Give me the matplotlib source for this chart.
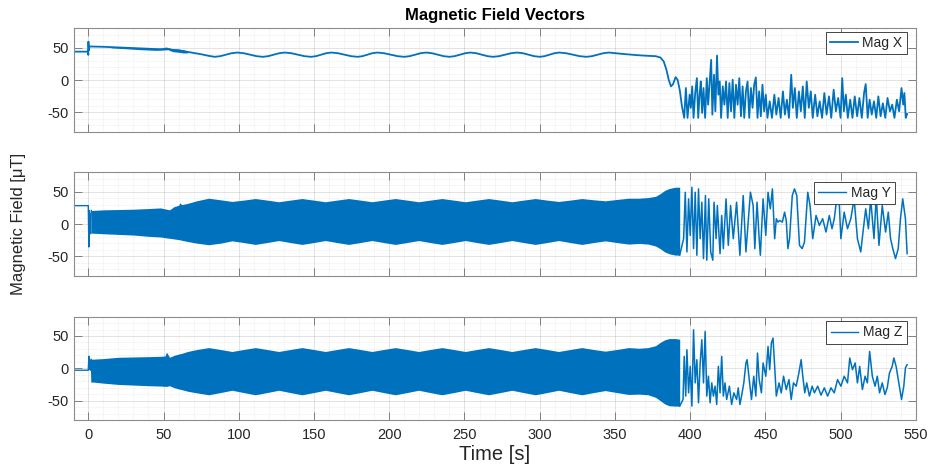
import matplotlib
matplotlib.use('Agg')
import matplotlib.pyplot as plt
from matplotlib.ticker import MultipleLocator

plt.rcParams['font.family'] = ['Liberation Sans', 'DejaVu Sans']
plt.rcParams['axes.unicode_minus'] = False

LINE = '#0072BD'
TXT = '#262626'

# ---- Mag X (line) ----
x_t = [-9.5, -0.2, 0.0, 0.1, 0.3, 0.8, 10, 20, 30, 40, 48, 50, 52, 55, 60, 65, 70, 75, 80,
       84, 87.75, 91.5, 95.25, 99, 103.25, 107.5, 111.75, 116, 119.6, 123.25, 126.9,
       130.5, 134.9, 139.25, 143.6, 148, 151.4, 154.75, 158.1, 161.5, 165.9, 170.25, 174.6,
       179, 182.25, 185.5, 188.75, 192, 196.5, 201, 205.5, 210, 213.6, 217.25, 220.9,
       224.5, 228.4, 232.25, 236.1, 240, 243.5, 247, 250.5, 254, 257.75, 261.5, 265.25,
       269, 273, 277, 281, 285, 288.75, 292.5, 296.25, 300, 303.25, 306.5, 309.75,
       313, 317.5, 322, 326.5, 331, 334.75, 338.5, 342.25, 346, 355, 365, 372, 377,
       380.2, 382.4, 384.2, 385.7, 387.2, 388.6, 390.3, 391.6, 393, 394.5, 396, 397.1,
       398.2, 399.6, 400.4, 401.3, 402.2, 403.3, 404.4, 405.3, 406.2, 407, 407.9, 408.8,
       409.9, 411, 411.9, 412.8, 413.9, 414.7, 415.8, 416.7, 417.8, 418.7, 419.6, 420.5,
       421.6, 422.7, 423.8, 424.9, 426, 427.1, 428.2, 429.3, 430.4, 431.5, 432.6, 433.7,
       434.8, 435.9, 437, 438.1, 439.2, 440.3, 441.4, 442.5, 443.6, 444.7, 445.8, 446.9,
       448, 449.1, 450.2, 451.3, 452.8, 454.3, 455.9, 457.2, 458.7, 460.1, 461.6, 462.9,
       464.2, 465.6, 467.1, 468.2, 469.5, 470.8, 472.2, 473.5, 474.8, 476.1, 477.4, 478.8,
       480.1, 481.4, 483, 484.5, 486, 487.6, 489.1, 490.6, 492.2, 493.7, 495.3, 496.8,
       498.3, 499.9, 501, 502.1, 503.4, 504.7, 506.3, 507.8, 509.3, 510.9, 512.4, 514,
       515.5, 516.6, 517.9, 519.2, 520.6, 522.1, 523.6, 525, 526.5, 528, 529.6, 531.1,
       532.7, 534.2, 535.7, 537.3, 538.8, 540.4, 541.5, 542.3, 543.2, 544.1]
x_v = [44, 44, 39, 59.5, 46, 52, 51.5, 50.5, 49.5, 48.5, 47.5, 48, 49, 47, 46, 44, 42, 40, 37.5,
       36, 37, 39.3, 41.6, 42.6, 41.6, 39.3, 37, 36, 37, 39.3, 41.6,
       42.6, 41.6, 39.3, 37, 36, 37, 39.3, 41.6, 42.6, 41.6, 39.3, 37,
       36, 37, 39.3, 41.6, 42.6, 41.6, 39.3, 37, 36, 37, 39.3, 41.6,
       42.6, 41.6, 39.3, 37, 36, 37, 39.3, 41.6, 42.6, 41.6, 39.3, 37,
       36, 37, 39.3, 41.6, 42.6, 41.6, 39.3, 37, 36, 37, 39.3, 41.6,
       42.6, 41.6, 39.3, 37, 36, 37, 39.3, 41.6, 42.6, 40.5, 38.5, 37.5, 37,
       34.9, 28.7, 15.9, 0.5, -9.8, -6.2, 4.6, 0.5, -14.9, -40.6, -58.5, -12.3,
       -58.5, -22.6, -43, -9.8, -58.5, -20, 3, -58.5, -22.6, -2.1, -50.8, -12.3,
       -58.5, 3, -38, -7.2, 31.3, -53.4, 8.2, -48.3, 37.9, -22.6, -2.1, -58.5,
       -9.8, -38, -2.1, -58.5, -4.6, -48.3, 0.5, -58.5, -7.2, -38, 3, -56,
       -9.8, -58.5, -17.5, -2.1, -58.5, -12.3, -43, -7.2, 4.1, -58.5, -17.5, -56,
       -7.2, -48.3, -22.6, -58.5, -32.9, -58.5, -22.6, -53.4, -27.7, -58.5, -17.5, -53.4,
       -30.3, -58.5, 8.2, -43, -12.3, -58.5, -17.5, -48.3, -9.8, -58.5, -2.1, -43,
       -17.5, -58.5, -22.6, -56, -32.9, -58.5, -20, -53.4, -25.2, -58.5, -14.9, -48.3,
       -27.7, -58.5, 3, -48.3, -22.6, -58.5, -30.3, -58.5, -25.2, -56, -27.7, -58.5,
       -20, -6.2, -58.5, -30.3, -53.4, -32.9, -58.5, -25.2, -56, -35.9, -58.5, -27.7,
       -48.3, -38, -58.5, -30.3, -48.3, -12.3, -38, -20, -58.5, -52.4]

# thick noisy part of Mag X early on
xb_t = [15, 25, 35, 45, 50, 53, 56, 60, 63, 66]
xb_lo = [50, 48.5, 47, 46, 46.5, 47, 44, 43, 42, 42]
xb_hi = [51.5, 51, 50, 49.5, 49.5, 50, 48.5, 48, 47, 45]

# ---- dense oscillation envelopes for Mag Y / Mag Z ----
band_t = [2, 10, 20, 30, 40, 48, 51, 52, 54, 57,
          60, 61, 62, 66, 72, 80, 88, 95.5, 103, 111,
          119, 126.5, 134, 142, 150, 157.5, 165, 173, 181, 188.5,
          196, 204, 212, 219.5, 227, 235, 243, 250.5, 258, 266,
          274, 281.5, 289, 297, 305, 312.5, 320, 328, 336, 343.5,
          351, 359, 366, 372, 377, 380, 383, 386, 390, 393]
y_hi = [21, 22, 22.5, 23, 24, 25, 23.5, 23, 22, 27,
        29, 33, 30, 32, 36, 40, 37.5, 35, 37, 39.5,
        37, 34.5, 37, 39.5, 37, 34.5, 37, 39.5, 37, 34.5,
        37, 39.5, 37, 34.5, 37, 39.5, 37, 34.5, 37, 39.5,
        37, 34.5, 37, 39.5, 37, 35, 37, 39.5, 37.5, 36,
        38, 40, 40, 41, 43, 47, 52, 55, 57, 57]
y_lo = [-14, -15, -16, -17, -19, -20, -21, -21.5, -22, -23,
        -24, -24.5, -25, -27, -29.5, -32, -29.5, -26, -28.5, -31.5,
        -28.5, -25.5, -28.5, -31.5, -28.5, -25.5, -28.5, -31.5, -28.5, -25.5,
        -28.5, -31.5, -28.5, -25.5, -28.5, -31.5, -28.5, -25.5, -28.5, -31.5,
        -28.5, -25.5, -28.5, -31.5, -28.5, -25.5, -28.5, -31.5, -28.5, -26,
        -28.5, -31, -30, -31, -34, -38, -43, -46, -48, -48]
z_hi = [14, 15, 17, 17.5, 18, 18.5, 19, 25, 17, 20,
        22, 22.5, 23, 26, 29, 32, 29, 26, 29, 32,
        29, 26, 29, 32, 29, 26, 29, 32, 29, 26,
        29, 32, 29, 26, 29, 32, 29, 26, 29, 32,
        29, 26, 29, 32, 29, 26, 29, 32, 29, 26.5,
        29, 32, 31, 32, 35, 40, 44, 46, 46, 45]
z_lo = [-21, -23, -25, -26, -27, -27.5, -28, -28, -27, -30,
        -32, -32.5, -33, -35.5, -38, -41, -37.5, -34, -37.5, -41,
        -37.5, -34, -37.5, -41, -37.5, -34, -37.5, -41, -37.5, -34,
        -37.5, -41, -37.5, -34, -37.5, -41, -37.5, -34, -37.5, -41,
        -37.5, -34, -37.5, -41, -37.5, -34, -37.5, -41, -37.5, -34.5,
        -37.5, -40.5, -40, -41, -45, -50, -55, -58, -58.5, -58.5]

# ---- Mag Y (line parts) ----
y_t0 = [-9.5, 0.0, 0.4, 0.6, 0.9, 1.2, 1.6, 2.0]
y_v0 = [28.5, 28.5, -35.5, 21, -12, 16, -15, 21]
y_t1 = [393, 395.6, 396.7, 397.8, 398.9, 400, 401.1, 402.2, 403.3, 404.4, 405.5, 406.6,
        407.7, 408.8, 410.1, 411, 412.3, 413.6, 415, 415.8, 417.2, 418, 419.8, 420.9,
        422, 423.8, 425.3, 426.8, 428.6, 430.8, 433, 435.2, 437, 438.5, 440, 441.8,
        442.9, 444.4, 445.8, 446.6, 448.4, 450.2, 451.7, 453.2, 454.6, 456.1, 457.2, 458.3,
        459.4, 461.2, 462.7, 463.8, 464.9, 466, 467.8, 469.3, 470.8, 472.6, 474.4, 475.9,
        478.1, 479.6, 481.4, 483.6, 485.8, 488, 490.2, 492.4, 494.2, 495.7, 497.9, 499,
        500.1, 502.3, 504.5, 506.7, 508.9, 511.1, 513.3, 514.8, 516.6, 518.4, 519.9, 522.1,
        523.6, 525.4, 527.6, 529.8, 531.6, 533.1, 534.6, 536.4, 538.2, 539.7, 541.2, 543,
        544.1]
y_v1 = [-48, -22.6, 49.2, -43.1, 39, -17.5, 56.9, -38, 49.2, -48.3, 54.4, -22.6,
        33.8, -53.4, 44.1, -55.9, 39, -43.1, -55.9, 33.8, -22.6, 28.7, -45.7, 13.3,
        -38, 39, -32.9, 28.7, -22.6, 33.8, -48.3, 44.1, -43.1, 3, 49.2, 28.7,
        -38, 33.8, -22.6, -48.3, 39, -17.5, 49.2, 23.6, 54.4, -22.6, 8.2, 3,
        5.6, 3, 18.4, 5.6, -38, -22.6, 44.1, 54.4, 44.1, -32.9, -38, -27.7,
        49.2, 28.7, -22.6, 13.3, -2.1, 8.2, -12.3, 13.3, -7.2, 8.2, 49.2, 33.8,
        -22.6, 18.4, -7.2, 8.2, 39, -22.6, -43.1, -12.3, 23.6, -7.2, 39, -22.6,
        44.1, -32.9, 28.7, -12.3, 18.4, -22.6, -38, -53.4, -38, 8.2, 39, 8.2,
        -45.7]

# ---- Mag Z (line parts) ----
z_t0 = [-9.5, 0.0, 0.4, 0.7, 1.0, 1.5, 2.0, 2.5]
z_v0 = [-3, -3, 18.5, -2, 12, -3, 14, -21]
z_t1 = [393, 395.2, 396, 397, 397.8, 398.9, 400, 401.1, 402.2, 403.3, 404.4, 405.5, 406.6,
        407.7, 408.8, 409.9, 411, 412.1, 413.2, 414.3, 415.4, 416.5, 417.6, 418.7, 419.8,
        420.9, 422, 423.1, 424.2, 426, 427.5, 429, 430.8, 431.9, 433, 434.1, 435.6,
        437, 437.8, 439.2, 440.7, 442.2, 443.6, 444.7, 445.8, 447.3, 448.4, 450.2, 451.7,
        452.8, 453.9, 455, 456.1, 457.2, 459, 460.5, 462, 463.8, 465.6, 467.1, 468.6,
        470.4, 472.2, 473.7, 474.8, 476.1, 477.4, 479.2, 481, 482.5, 484.7, 486.9, 489.1,
        491.3, 493.5, 495.7, 497.9, 500.1, 502.3, 504.5, 506, 507.8, 509.6, 511.1, 512.6,
        514.4, 516.2, 517.7, 519.2, 521, 522.8, 524.3, 525.8, 527.6, 529.4, 530.9, 532.4,
        534.2, 535.3, 536.8, 538.6, 540.4, 541.9, 543, 544.1]
z_v1 = [-58.5, -48.3, 18.4, -43, 28.7, -38, 3, -58.5, 59.5, -22.6, 13.3, -53.4, 8.2,
        44.1, -22.6, 56.9, -43, -12.3, -53.4, -22.6, -43, -27.7, -56, 3, -38,
        18.4, -43, -22.6, -48.3, -27.7, -56, -38, -48.3, -30.3, -56, -43, -22.6,
        8.2, 13.3, -17.5, -48.3, -12.3, -43, 23.6, -17.5, -38, 8.2, -12.3, 33.8,
        -2.1, 39, 46.7, 3, -43, -22.6, -38, -12.3, -32.9, -17.5, -48.3, -22.6,
        -27.7, -7.2, 13.3, -12.3, -38, -22.6, -43, -27.7, -38, -27.7, -41.6, -30.3,
        -43, -30.3, -38, -17.5, -27.7, -12.3, -22.6, 15.9, -2.1, 8.2, -22.6, 3,
        -32.9, -12.3, -22.6, 26.1, -12.3, -27.7, -12.3, -38, -22.6, -40.6, -30.3, -7.2,
        3, 15.9, 3, -22.6, -48.3, -27.7, 0.5, 5.6]

fig = plt.figure(figsize=(9.34, 4.69), dpi=100, facecolor='white')

L, W, H = 0.0792, 0.9015, 0.2205
ax1 = fig.add_axes([L, 0.719, W, H])
ax2 = fig.add_axes([L, 0.412, W, H])
ax3 = fig.add_axes([L, 0.1045, W, H])

ax1.plot(x_t, x_v, color=LINE, lw=1.3, label='Mag X')
ax1.fill_between(xb_t, xb_lo, xb_hi, color=LINE, lw=0)

ax2.plot(y_t0, y_v0, color=LINE, lw=1.0, label='Mag Y')
ax2.fill_between(band_t, y_lo, y_hi, color=LINE, lw=0)
ax2.plot(y_t1, y_v1, color=LINE, lw=1.1)

ax3.plot(z_t0, z_v0, color=LINE, lw=1.0, label='Mag Z')
ax3.fill_between(band_t, z_lo, z_hi, color=LINE, lw=0)
ax3.plot(z_t1, z_v1, color=LINE, lw=1.1)

for ax in (ax1, ax2, ax3):
    ax.set_xlim(-9.5, 550)
    ax.set_ylim(-80, 80)
    ax.set_xticks(range(0, 551, 50))
    ax.set_yticks([-50, 0, 50])
    ax.xaxis.set_minor_locator(MultipleLocator(10))
    ax.yaxis.set_minor_locator(MultipleLocator(10))
    ax.grid(True, which='major', color=TXT, alpha=0.15, lw=0.6)
    ax.grid(True, which='minor', color=TXT, alpha=0.16, lw=0.45, ls=':')
    ax.set_axisbelow(True)
    ax.tick_params(which='major', direction='in', length=6, width=0.6,
                   top=True, right=True, color='#6e6e6e', labelcolor=TXT,
                   labelsize=10.5)
    ax.tick_params(axis='x', pad=6)
    ax.tick_params(axis='y', pad=4)
    ax.tick_params(which='minor', length=0)
    for s in ax.spines.values():
        s.set_color('#8c8c8c')
        s.set_linewidth(0.8)

ax1.tick_params(labelbottom=False)
ax2.tick_params(labelbottom=False)

# legends sit at slightly different spots in each panel
leg_kw = dict(loc='upper right', borderaxespad=0, fontsize=10, fancybox=False,
              framealpha=1, edgecolor=TXT, handlelength=2.0, handletextpad=0.35,
              borderpad=0.3)
for ax, pos in ((ax1, (0.989, 0.967)), (ax2, (0.975, 0.909)), (ax3, (0.989, 0.955))):
    lg = ax.legend(bbox_to_anchor=pos, **leg_kw)
    lg.get_frame().set_linewidth(0.6)
    for t in lg.get_texts():
        t.set_color(TXT)

ax1.set_title('Magnetic Field Vectors', fontsize=12, fontweight='bold', color='black', pad=6)
fig.text(0.0193, 0.5224, 'Magnetic Field [\u03bcT]', rotation=90, ha='center', va='center',
         fontsize=12, color=TXT)
fig.text(0.53, 0.031, 'Time [s]', ha='center', va='center', fontsize=14.5, color=TXT)

fig.savefig('out.png', dpi=100, facecolor='white')
